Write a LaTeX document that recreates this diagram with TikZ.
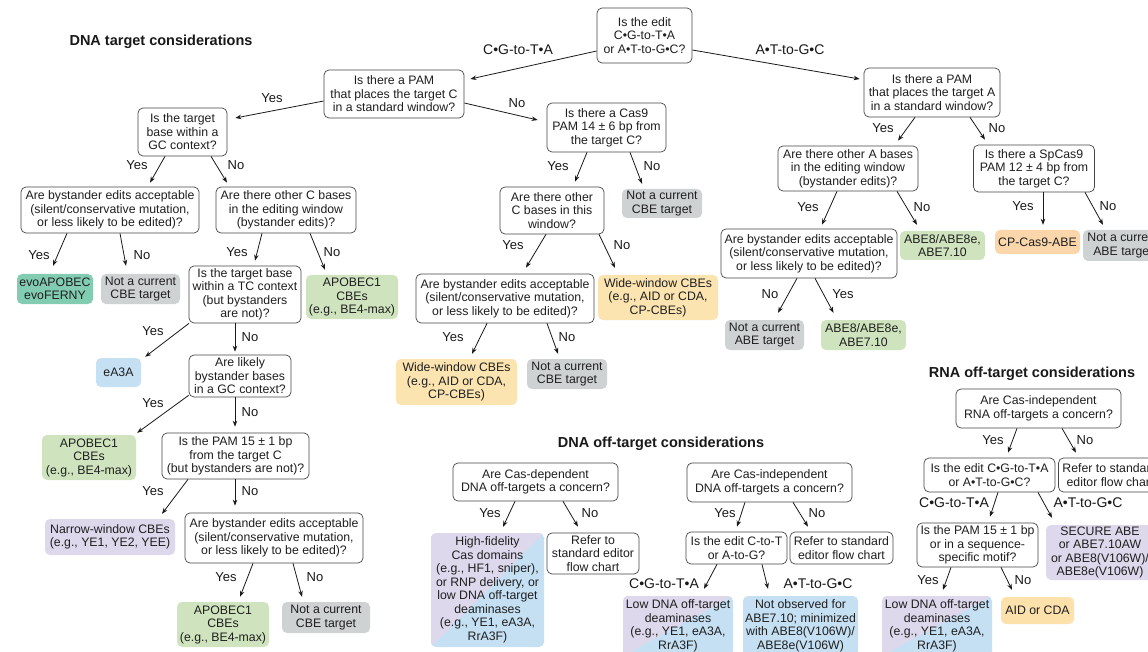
\documentclass[tikz,border=0pt]{standalone}
\usepackage{fontspec}
\setmainfont{Liberation Sans}
\usetikzlibrary{arrows.meta,calc}
\definecolor{cteal}{RGB}{130,204,178}
\definecolor{cgray}{RGB}{206,210,211}
\definecolor{cgreen}{RGB}{207,228,190}
\definecolor{cblue}{RGB}{198,224,243}
\definecolor{cwide}{RGB}{251,228,176}
\definecolor{cpeach}{RGB}{250,214,170}
\definecolor{caid}{RGB}{252,225,170}
\definecolor{cpurp}{RGB}{221,216,236}
\definecolor{cline}{RGB}{70,70,70}
\newcommand\conn[5]{\draw[arr] ([xshift=#2pt]#1.south) -- ([xshift=#4pt,yshift=#5pt]#3.north);}
\begin{document}
\begin{tikzpicture}[x=1pt,y=-1pt,
  box/.style={rounded corners=5pt, align=center, inner sep=1pt, font=\fontsize{12.3}{13.5}\selectfont, text=black!88},
  sz/.style 2 args={minimum width=#1pt, minimum height=#2pt},
  q/.style={box, draw=cline, line width=0.7pt, fill=white},
  gr/.style={box, fill=cgray},
  gn/.style={box, fill=cgreen},
  bl/.style={box, fill=cblue},
  tl/.style={box, fill=cteal},
  wd/.style={box, fill=cwide},
  pc/.style={box, fill=cpeach},
  ad/.style={box, fill=caid},
  pu/.style={box, fill=cpurp},
  split/.style={box, fill=cblue, path picture={\fill[cpurp] (path picture bounding box.north west) -- (path picture bounding box.south west) -- (path picture bounding box.north east) -- cycle;}},
  lab/.style={font=\fontsize{13}{15}\selectfont, inner sep=0pt, text=black!90},
  big/.style={font=\fontsize{14}{16}\selectfont, inner sep=0pt, text=black!90},
  ttl/.style={font=\bfseries\fontsize{14.5}{17}\selectfont, inner sep=0pt, text=black!90},
  arr/.style={-{Stealth[length=6pt,width=4.5pt]}, line width=0.8pt, black!90}
]
\fill[white] (0,0) rectangle (1148,652);
\clip (0,0) rectangle (1148,652);

% titles
\node[ttl] (t1) at (161,42) {DNA target considerations};
\node[ttl] (t2) at (661,444) {DNA off-target considerations};
\node[ttl] (t3) at (1032,374) {RNA off-target considerations};

% ---------- DNA target ----------
\node[q, sz={95}{55}] (top) at (644.5,35.5) {Is the edit\\C•G-to-T•A\\or A•T-to-G•C?};
\node[q, sz={140}{48}] (pamC) at (394,94) {Is there a PAM\\that places the target C\\in a standard window?};
\node[q, sz={136}{49}] (pamA) at (932,92.5) {Is there a PAM\\that places the target A\\in a standard window?};
\node[q, sz={89}{48}] (gc) at (182.5,132) {Is the target\\base within a\\GC context?};
\node[q, sz={119}{49}] (cas9) at (606.5,127.5) {Is there a Cas9\\PAM 14 ± 6 bp from\\the target C?};
\node[q, sz={178}{46}] (by1) at (110,210) {Are bystander edits acceptable\\(silent/conservative mutation,\\or less likely to be edited)?};
\node[q, sz={140}{46}] (otherC) at (286,210) {Are there other C bases\\in the editing window\\(bystander edits)?};
\node[q, sz={104}{47}] (otherCw) at (552,210.5) {Are there other\\C bases in this\\window?};
\node[gr, sz={80}{29}] (nc1) at (662,203.5) {Not a current\\CBE target};
\node[q, sz={140}{45}] (otherA) at (848,168.5) {Are there other A bases\\in the editing window\\(bystander edits)?};
\node[q, sz={121}{47}] (spcas) at (1034,168.5) {Is there a SpCas9\\PAM 12 ± 4 bp from\\the target C?};
\node[q, sz={176}{49}] (by4) at (809,253.5) {Are bystander edits acceptable\\(silent/conservative mutation,\\or less likely to be edited)?};
\node[gn, sz={85}{29}] (abe1) at (942.5,245.5) {ABE8/ABE8e,\\ABE7.10};
\node[pc, sz={85}{24}] (cpcas) at (1037.5,242) {CP-Cas9-ABE};
\node[gr, sz={80}{31}] (ncabe1) at (1123,245.5) {Not a current\\ABE target};
\node[gr, sz={79}{30}] (ncabe2) at (764.5,335) {Not a current\\ABE target};
\node[gn, sz={85}{30}] (abe2) at (863.5,335) {ABE8/ABE8e,\\ABE7.10};
\node[tl, sz={76}{30}] (evo) at (55,289) {evoAPOBEC\\evoFERNY};
\node[gr, sz={79}{30}] (nc2) at (140.5,289) {Not a current\\CBE target};
\node[q, sz={112}{57}] (tc) at (245,294.5) {Is the target base\\within a TC context\\(but bystanders\\are not)?};
\node[gn, sz={92}{44}] (apo1) at (352,297) {APOBEC1\\CBEs\\(e.g., BE4-max)};
\node[bl, sz={45}{29}] (ea3a) at (118.5,372.5) {eA3A};
\node[q, sz={102}{42}] (likely) at (240,376) {Are likely\\bystander bases\\in a GC context?};
\node[gn, sz={94}{45}] (apo2) at (89,457.5) {APOBEC1\\CBEs\\(e.g., BE4-max)};
\node[q, sz={147}{46}] (pam15) at (235.5,456) {Is the PAM 15 ± 1 bp\\from the target C\\(but bystanders are not)?};
\node[pu, sz={130}{36}] (narrow) at (110,537) {Narrow-window CBEs\\(e.g., YE1, YE2, YEE)};
\node[q, sz={178}{50}] (by3) at (274,538) {Are bystander edits acceptable\\(silent/conservative mutation,\\or less likely to be edited)?};
\node[gn, sz={92}{45}] (apo3) at (223,624.5) {APOBEC1\\CBEs\\(e.g., BE4-max)};
\node[gr, sz={88}{31}] (nc3) at (326,617.5) {Not a current\\CBE target};
\node[q, sz={178}{49}] (by2) at (505,298.5) {Are bystander edits acceptable\\(silent/conservative mutation,\\or less likely to be edited)?};
\node[wd, sz={120}{45}] (wide1) at (658,297.5) {Wide-window CBEs\\(e.g., AID or CDA,\\CP-CBEs)};
\node[wd, sz={121}{46}] (wide2) at (456.5,382) {Wide-window CBEs\\(e.g., AID or CDA,\\CP-CBEs)};
\node[gr, sz={80}{30}] (nc4) at (567,374) {Not a current\\CBE target};

% labels DNA target
\node[big] (l1) at (518,50) {C•G-to-T•A};
\node[big] (l2) at (790,50) {A•T-to-G•C};
\node[lab] (l3) at (272,98) {Yes};
\node[lab] (l4) at (517,103) {No};
\node[lab] (l5) at (137,165) {Yes};
\node[lab] (l6) at (236,165) {No};
\node[lab] (l7) at (558,166) {Yes};
\node[lab] (l8) at (652,166) {No};
\node[lab] (l9) at (883,128) {Yes};
\node[lab] (l10) at (997,128) {No};
\node[lab] (l11) at (39,255) {Yes};
\node[lab] (l12) at (142,255) {No};
\node[lab] (l13) at (237,252) {Yes};
\node[lab] (l14) at (332,252) {No};
\node[lab] (l15) at (808,207) {Yes};
\node[lab] (l16) at (922,207) {No};
\node[lab] (l17) at (1023,206) {Yes};
\node[lab] (l18) at (1108,206) {No};
\node[lab] (l19) at (770,294) {No};
\node[lab] (l20) at (843,294) {Yes};
\node[lab] (l21) at (153,331) {Yes};
\node[lab] (l22) at (250,337) {No};
\node[lab] (l23) at (153,403) {Yes};
\node[lab] (l24) at (250,412) {No};
\node[lab] (l25) at (153,491) {Yes};
\node[lab] (l26) at (250,491) {No};
\node[lab] (l27) at (226,577) {Yes};
\node[lab] (l28) at (315,577) {No};
\node[lab] (l29) at (513,245) {Yes};
\node[lab] (l30) at (622,245) {No};
\node[lab] (l31) at (453,337) {Yes};
\node[lab] (l32) at (567,337) {No};

% connectors DNA target
\draw[arr] ([yshift=-15.5pt]top.west) -- ([xshift=6pt,yshift=15pt]pamC.east);
\draw[arr] ([yshift=-14.5pt]top.east) -- ([xshift=-4pt,yshift=13.5pt]pamA.west);
\draw[arr] ([yshift=-7pt]pamC.west) -- ([xshift=8pt,yshift=14pt]gc.east);
\draw[arr] ([yshift=-9pt]pamC.east) -- ([xshift=-9pt,yshift=7.5pt]cas9.west);
\conn{gc}{-17.5}{by1}{40}{4}
\conn{gc}{28.5}{otherC}{-59}{4}
\conn{cas9}{-19.5}{otherCw}{23}{5}
\conn{cas9}{23.5}{nc1}{-20}{5}
\conn{pamA}{-17}{otherA}{50}{5}
\conn{pamA}{38}{spcas}{-49}{5}
\conn{otherA}{-11}{by4}{13}{4}
\conn{otherA}{49}{abe1}{-25.5}{6}
\conn{spcas}{9}{cpcas}{5.5}{5}
\conn{spcas}{51}{ncabe1}{-20}{5}
\conn{by4}{-12}{ncabe2}{13.5}{7}
\conn{by4}{6}{abe2}{-30}{7}
\conn{by1}{-43}{evo}{-2}{8}
\conn{by1}{10}{nc2}{-14.5}{8}
\conn{otherC}{-24}{tc}{10}{5}
\conn{otherC}{24}{apo1}{-27}{5}
\draw[arr] ([xshift=-56pt]tc.south) -- ([xshift=4pt,yshift=1pt]ea3a.north east);
\conn{tc}{-10}{likely}{-5}{3}
\draw[arr] ([yshift=2pt]likely.south west) -- ([xshift=1pt,yshift=2pt]apo2.north east);
\conn{likely}{-5}{pam15}{-0.5}{6}
\conn{pam15}{-47.5}{narrow}{52}{5}
\conn{pam15}{-0.5}{by3}{-39}{7}
\conn{by3}{-21}{apo3}{17}{5}
\conn{by3}{19}{nc3}{-24}{5}
\conn{otherCw}{-6}{by2}{21}{6}
\conn{otherCw}{47}{wide1}{-43}{7}
\conn{by2}{-18}{wide2}{15.5}{5}
\conn{by2}{42}{nc4}{-9}{5}

% ---------- DNA off-target ----------
\node[q, sz={165}{38}] (casdep) at (535.5,482) {Are Cas-dependent\\DNA off-targets a concern?};
\node[split, sz={113}{114}] (hifi) at (487.5,590) {High-fidelity\\Cas domains\\(e.g., HF1, sniper),\\or RNP delivery, or\\low DNA off-target\\deaminases\\(e.g., YE1, eA3A,\\RrA3F)};
\node[q, sz={92}{41}] (ref1) at (593,553.5) {Refer to\\standard editor\\flow chart};
\node[q, sz={165}{39}] (casind) at (769.5,482.5) {Are Cas-independent\\DNA off-targets a concern?};
\node[q, sz={101}{32}] (editCT) at (736.5,548) {Is the edit C-to-T\\or A-to-G?};
\node[q, sz={103}{32}] (ref2) at (841.5,548) {Refer to standard\\editor flow chart};
\node[split, sz={110}{60}] (low1) at (678,626) {Low DNA off-target\\deaminases\\(e.g., YE1, eA3A,\\RrA3F)};
\node[bl, sz={115}{60}] (notobs) at (800.5,626) {Not observed for\\ABE7.10; minimized\\with ABE8(V106W)/\\ABE8e(V106W)};

\node[lab] (m1) at (490,513) {Yes};
\node[lab] (m2) at (590,513) {No};
\node[lab] (m3) at (725,513) {Yes};
\node[lab] (m4) at (817,513) {No};
\node[big] (m5) at (664,584) {C•G-to-T•A};
\node[big] (m6) at (818,584) {A•T-to-G•C};

\conn{casdep}{-20.5}{hifi}{15.5}{6}
\conn{casdep}{27.5}{ref1}{-15}{6}
\conn{casind}{-24.5}{editCT}{0.5}{5}
\conn{casind}{23.5}{ref2}{-33.5}{5}
\conn{editCT}{-19.5}{low1}{26}{7}
\conn{editCT}{25.5}{notobs}{-32.5}{7}

% ---------- RNA off-target ----------
\node[q, sz={165}{39}] (rnaq) at (1038.5,408.5) {Are Cas-independent\\RNA off-targets a concern?};
\node[q, sz={131}{34}] (rnaedit) at (989.5,475) {Is the edit C•G-to-T•A\\or A•T-to-G•C?};
\node[q, sz={103}{34}] (ref3) at (1110,475) {Refer to standard\\editor flow chart};
\node[q, sz={121}{44}] (pamseq) at (977.5,545) {Is the PAM 15 ± 1 bp\\or in a sequence-\\specific motif?};
\node[pu, sz={108}{55}] (secure) at (1100,552.5) {SECURE ABE\\or ABE7.10AW\\or ABE8(V106W)/\\ABE8e(V106W)};
\node[split, sz={110}{60}] (low2) at (937,626) {Low DNA off-target\\deaminases\\(e.g., YE1, eA3A,\\RrA3F)};
\node[ad, sz={73}{27}] (aid) at (1037.5,610.5) {AID or CDA};

\node[lab] (r1) at (993,440) {Yes};
\node[lab] (r2) at (1085,440) {No};
\node[big] (r3) at (954,503) {C•G-to-T•A};
\node[big] (r4) at (1088,503) {A•T-to-G•C};
\node[lab] (r5) at (928,580) {Yes};
\node[lab] (r6) at (1023,580) {No};

\conn{rnaq}{-21.5}{rnaedit}{18.5}{5}
\conn{rnaq}{23.5}{ref3}{-34}{5}
\conn{rnaedit}{8.5}{pamseq}{12.5}{6}
\conn{rnaedit}{48.5}{secure}{-48}{7}
\conn{pamseq}{-26.5}{low2}{6}{6}
\conn{pamseq}{23.5}{aid}{-25.5}{7}
\end{tikzpicture}
\end{document}
